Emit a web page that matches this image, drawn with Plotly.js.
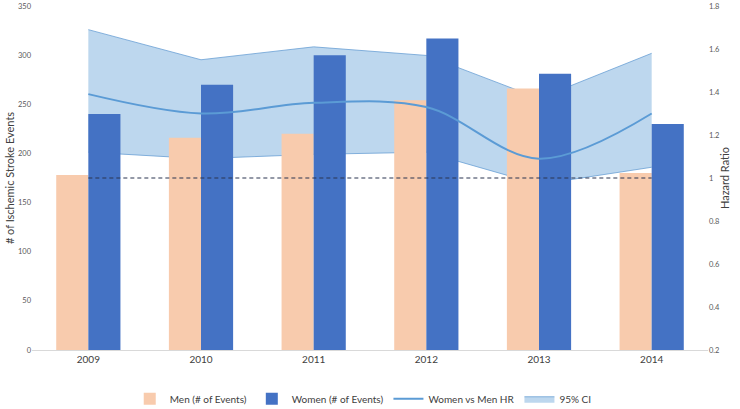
<!DOCTYPE html>
<html>
<head>
<meta charset="utf-8">
<script src="https://cdn.plot.ly/plotly-3.0.1.min.js"></script>
<style>
  html, body { margin: 0; padding: 0; background: #fff; }
  #chart { width: 740px; height: 409px; }
</style>
</head>
<body>
<div id="chart"></div>
<script>
// data
var years = ["2009", "2010", "2011", "2012", "2013", "2014"];
var menEvents = [178, 216, 220, 254, 266, 180];
var womenEvents = [240, 270, 300, 317, 281, 230];
var hazardRatio = [1.39, 1.30, 1.35, 1.33, 1.09, 1.30];
var ciUpper = [1.69, 1.55, 1.61, 1.57, 1.37, 1.58];
var ciLower = [1.12, 1.09, 1.11, 1.12, 0.97, 1.05];
var refLine = [1, 1, 1, 1, 1, 1];

var fontFam = "Lato, 'Open Sans', sans-serif";

// band goes on the base subplot so it sits behind the bars
var bandLow = {
    x: years, y: ciLower, xaxis: "x", yaxis: "y",
    type: "scatter", mode: "lines",
    line: { color: "#6a9fd4", width: 0.8 },
    showlegend: false, hoverinfo: "skip"
};
var bandHigh = {
    x: years, y: ciUpper, xaxis: "x", yaxis: "y",
    type: "scatter", mode: "lines", name: "95% CI",
    fill: "tonexty", fillcolor: "#bdd7ee",
    line: { color: "#6a9fd4", width: 0.8 },
    legendrank: 4
};

var men = {
    x: years, y: menEvents, xaxis: "x", yaxis: "y2",
    type: "bar", name: "Men (# of Events)",
    marker: { color: "#f8cbad" }, legendrank: 1
};
var women = {
    x: years, y: womenEvents, xaxis: "x", yaxis: "y2",
    type: "bar", name: "Women (# of Events)",
    marker: { color: "#4472c4" }, legendrank: 2
};

// line and reference on top overlay
var hr = {
    x: years, y: hazardRatio, xaxis: "x", yaxis: "y3",
    type: "scatter", mode: "lines", name: "Women vs Men HR",
    line: { color: "#5b9bd5", width: 2, shape: "spline", smoothing: 1 },
    legendrank: 3
};
var ref = {
    x: years, y: refLine, xaxis: "x", yaxis: "y3",
    type: "scatter", mode: "lines",
    line: { color: "#2a3550", width: 1.2, dash: "4px,3px" },
    showlegend: false, hoverinfo: "skip"
};

var layout = {
    width: 740, height: 409,
    margin: { l: 32, r: 32, t: 6, b: 59 },
    paper_bgcolor: "#fff", plot_bgcolor: "rgba(0,0,0,0)",
    font: { family: fontFam, color: "#404040" },
    barmode: "group", bargap: 0.43, bargroupgap: 0,
    showlegend: true,
    legend: {
        orientation: "h", x: 0.49, xanchor: "center",
        yref: "container", y: 0.025, yanchor: "middle",
        font: { size: 10, color: "#404040" },
        traceorder: "normal"
    },
    xaxis: {
        type: "category", range: [-0.5, 5.5],
        showgrid: false, zeroline: false,
        showline: true, linecolor: "#d9d9d9", linewidth: 1,
        ticks: "", tickfont: { size: 10, color: "#404040" },
        fixedrange: true
    },
    yaxis: {
        side: "right", range: [0.2, 1.8], dtick: 0.2, tick0: 0.2,
        showgrid: false, zeroline: false, showline: false, ticks: "",
        tickfont: { size: 7.5, color: "#595959" }, ticklabeloverflow: "allow",
        title: { text: "Hazard Ratio", font: { size: 11, color: "#404040" }, standoff: 2 },
        automargin: false
    },
    yaxis2: {
        side: "left", overlaying: "y", range: [0, 350], dtick: 50,
        showgrid: false, zeroline: false, showline: false, ticks: "",
        tickfont: { size: 7.5, color: "#595959" }, ticklabeloverflow: "allow",
        title: { text: "# of Ischemic Stroke Events", font: { size: 11, color: "#404040" }, standoff: 1 },
        automargin: false
    },
    yaxis3: {
        overlaying: "y", range: [0.2, 1.8], visible: false
    }
};

Plotly.newPlot("chart", [bandLow, bandHigh, men, women, hr, ref], layout, { displayModeBar: false, staticPlot: true });
</script>
</body>
</html>
